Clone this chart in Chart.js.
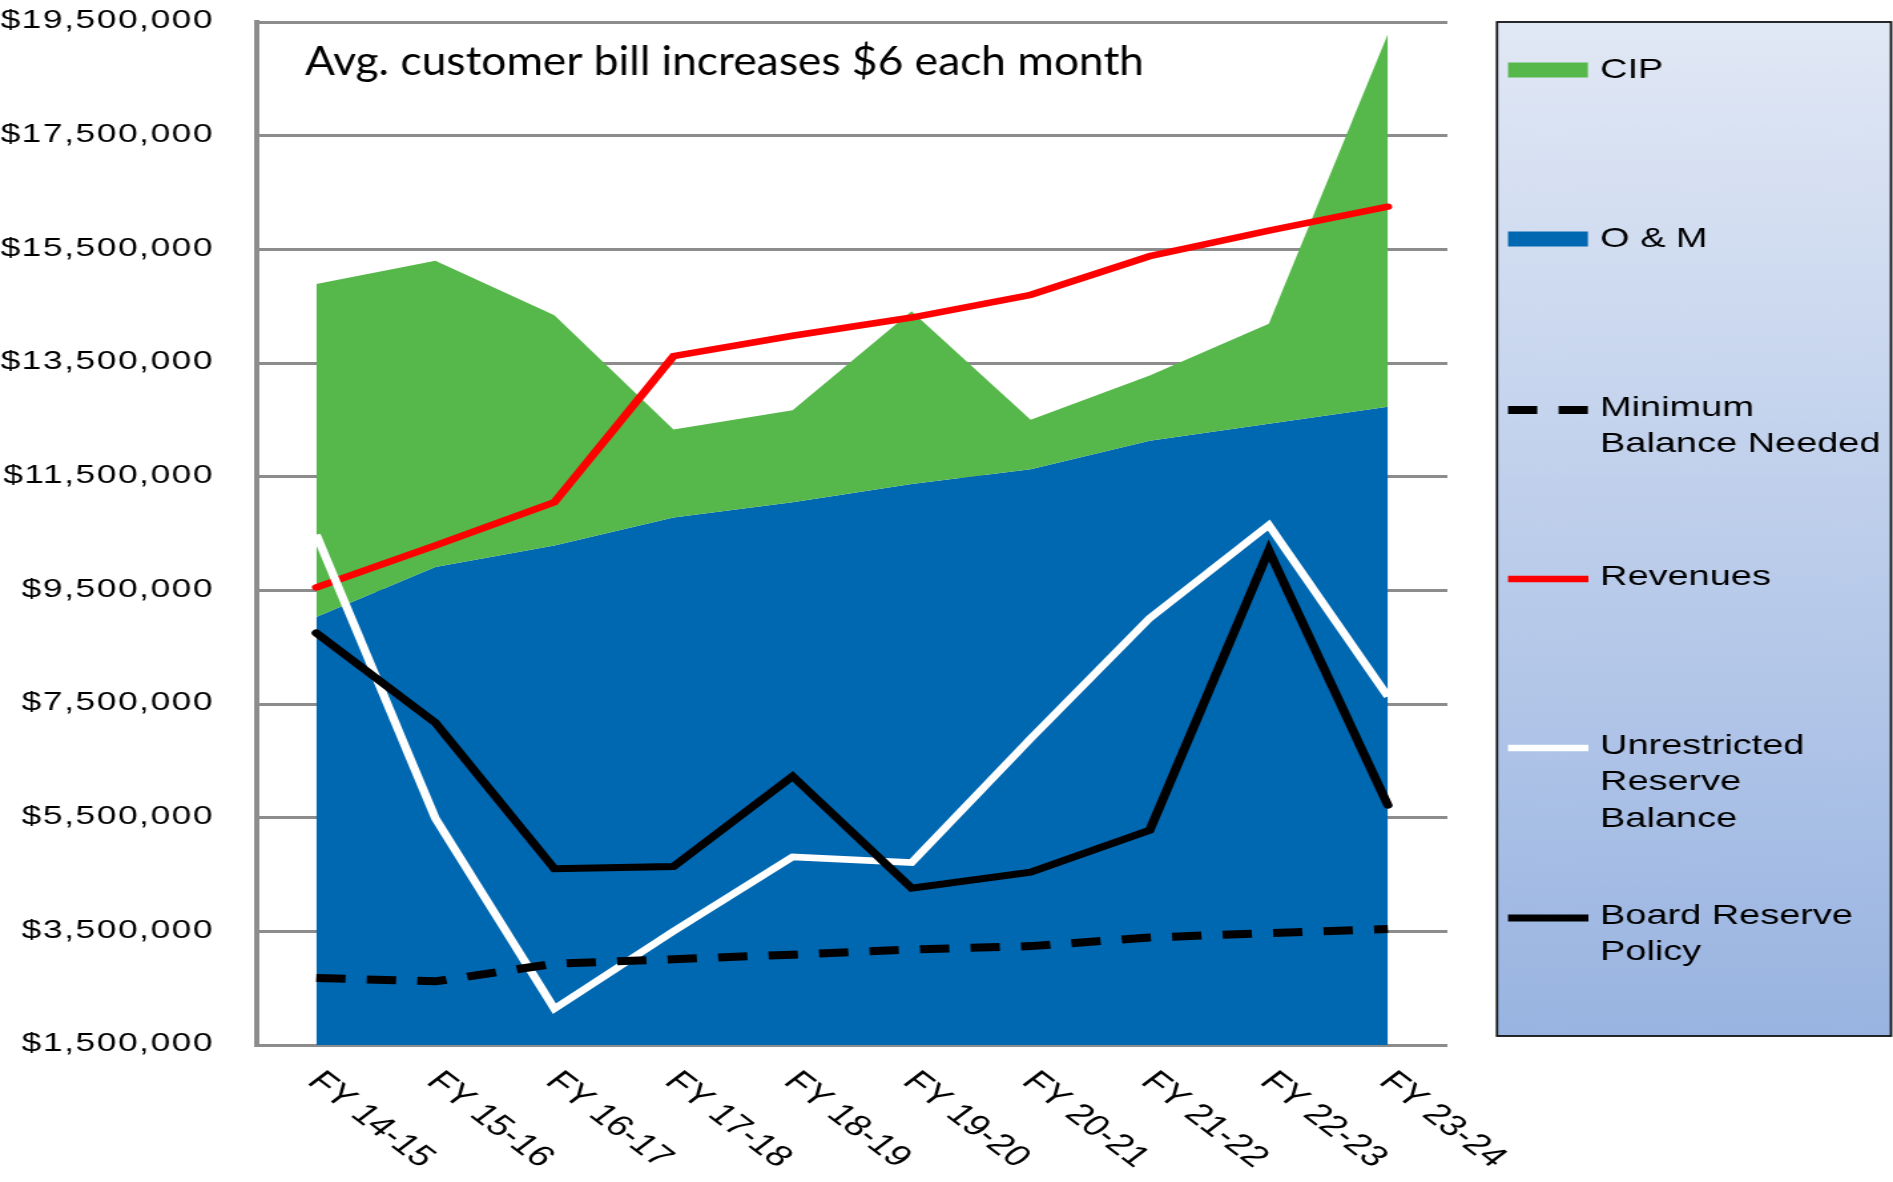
<!DOCTYPE html>
<html>
<head>
<meta charset="utf-8">
<script src="https://cdn.jsdelivr.net/npm/chart.js@4.4.1/dist/chart.umd.min.js"></script>
<style>
  html, body { margin: 0; padding: 0; background: #fff; overflow: hidden; }
  /* the original picture is a chart stretched sideways, so draw narrow and stretch */
  #wrap { width: 1423px; height: 1182px; transform: scaleX(1.3303); transform-origin: 0 0; }
</style>
</head>
<body>
<div id="wrap"><canvas id="fund_chart"></canvas></div>
<script>
const stretch = 1.3303;

const years = ['FY 14-15', 'FY 15-16', 'FY 16-17', 'FY 17-18', 'FY 18-19', 'FY 19-20', 'FY 20-21', 'FY 21-22', 'FY 22-23', 'FY 23-24'];

const om_costs = [9030000, 9910000, 10290000, 10780000, 11050000, 11370000, 11630000, 12130000, 12430000, 12730000];
const cip_costs = [5860000, 5390000, 4050000, 1550000, 1620000, 3040000, 870000, 1150000, 1760000, 6560000];
const revenues = [9550000, 10290000, 11050000, 13620000, 13980000, 14300000, 14700000, 15380000, 15830000, 16250000];
const unrestricted_balance = [10480000, 5490000, 2140000, 3500000, 4810000, 4710000, 6890000, 9010000, 10650000, 7630000];
const board_policy = [8750000, 7170000, 4600000, 4640000, 6230000, 4260000, 4540000, 5280000, 10200000, 5720000];
const minimum_balance = [2680000, 2620000, 2930000, 3010000, 3090000, 3180000, 3240000, 3390000, 3470000, 3540000];

const y_min = 1500000;
const y_max = 19500000;
const y_step = 2000000;

const note_text = 'Avg. customer bill increases $6 each month';

Chart.defaults.font.family = '"Liberation Sans", Arial, sans-serif';
Chart.defaults.color = '#000';

// the axis labels in the picture are spaced out a little
const spaced_ticks = {
  id: 'spaced_ticks',
  beforeDraw(chart) {
    chart.ctx.letterSpacing = '1.2px';
  }
};

// legend on the right, drawn in the gradient box
const legend_box = {
  id: 'legend_box',
  afterDraw(chart) {
    const ctx = chart.ctx;
    const left = 1125.3, top = 22, right = 1421.5, bottom = 1036;
    ctx.save();
    ctx.letterSpacing = '0px';
    const grad = ctx.createLinearGradient(0, top, 0, bottom);
    grad.addColorStop(0, '#e1e8f5');
    grad.addColorStop(1, '#99b4e1');
    ctx.fillStyle = grad;
    ctx.fillRect(left, top, right - left, bottom - top);
    ctx.strokeStyle = '#111';
    ctx.lineWidth = 1.8;
    ctx.strokeRect(left, top, right - left, bottom - top);

    const rows = [
      { ds: 5, y: 70 },
      { ds: 4, y: 239 },
      { ds: 0, y: 408 },
      { ds: 1, y: 577 },
      { ds: 2, y: 746 },
      { ds: 3, y: 916 }
    ];
    ctx.font = '28.5px "Liberation Sans", Arial, sans-serif';
    ctx.textAlign = 'left';
    ctx.textBaseline = 'middle';
    rows.forEach(r => {
      const ds = chart.data.datasets[r.ds];
      if (ds.fill) {
        ctx.fillStyle = ds.backgroundColor;
        ctx.fillRect(1133.6, r.y - 7.5, 60, 15);
      } else {
        ctx.save();
        ctx.strokeStyle = ds.borderColor;
        ctx.lineWidth = ds.borderWidth;
        ctx.setLineDash(ds.borderDash || []);
        ctx.lineCap = 'butt';
        ctx.beginPath();
        ctx.moveTo(1133.6, r.y + 2);
        ctx.lineTo(1194, r.y + 2);
        ctx.stroke();
        ctx.restore();
      }
      ctx.fillStyle = '#000';
      ds.label.split('\n').forEach((line, k) => {
        ctx.fillText(line, 1202.8, r.y + k * 36.5);
      });
    });
    ctx.restore();
  }
};

// rotated year labels and the note at the top of the plot
const extra_text = {
  id: 'extra_text',
  afterDraw(chart) {
    const ctx = chart.ctx;
    const xs = chart.scales.x;
    ctx.save();
    ctx.letterSpacing = '0px';
    ctx.fillStyle = '#000';
    ctx.font = '29.5px "Liberation Sans", Arial, sans-serif';
    ctx.textAlign = 'left';
    ctx.textBaseline = 'middle';
    years.forEach((lab, i) => {
      ctx.save();
      ctx.translate(xs.getPixelForTick(i) - 2, 1077);
      ctx.rotate(Math.PI / 4);
      ctx.fillText(lab, 0, 0);
      ctx.restore();
    });

    // the note was not stretched, so undo the page stretch for it
    ctx.font = '40px Lato, "Open Sans", sans-serif';
    ctx.textBaseline = 'alphabetic';
    const w = ctx.measureText(note_text).width;
    ctx.translate(305 / stretch, 75);
    ctx.scale((839 / stretch) / w, 1);
    ctx.fillText(note_text, 0, 0);
    ctx.restore();
  }
};

new Chart(document.getElementById('fund_chart'), {
  type: 'line',
  data: {
    labels: years,
    datasets: [
      {
        label: 'Minimum\nBalance Needed',
        data: minimum_balance,
        borderColor: '#000',
        borderWidth: 8,
        borderDash: [22, 16],
        order: 1
      },
      {
        label: 'Revenues',
        data: revenues,
        borderColor: '#ff0000',
        borderWidth: 6.5,
        borderCapStyle: 'round',
        order: 3
      },
      {
        label: 'Unrestricted\nReserve\nBalance',
        data: unrestricted_balance,
        borderColor: '#ffffff',
        borderWidth: 6.5,
        order: 2
      },
      {
        label: 'Board Reserve\nPolicy',
        data: board_policy,
        borderColor: '#000',
        borderWidth: 7,
        borderCapStyle: 'round',
        order: 0
      },
      {
        label: 'O & M',
        data: om_costs,
        fill: 'start',
        backgroundColor: '#0067b1',
        borderWidth: 0,
        order: 9
      },
      {
        label: 'CIP',
        data: om_costs.map((v, i) => v + cip_costs[i]),
        fill: '-1',
        backgroundColor: '#56b84b',
        borderWidth: 0,
        order: 8
      }
    ]
  },
  options: {
    responsive: true,
    maintainAspectRatio: false,
    animation: false,
    elements: {
      point: { radius: 0, hoverRadius: 0 },
      line: { tension: 0, borderJoinStyle: 'miter' }
    },
    layout: {
      padding: { left: 0, right: 335, top: 22, bottom: 137 }
    },
    scales: {
      x: {
        offset: true,
        grid: { display: false },
        border: { display: false },
        ticks: { display: false },
        afterFit: scale => {
          scale.height = 0;
          scale.paddingLeft = 0;
          scale.paddingRight = 0;
        }
      },
      y: {
        min: y_min,
        max: y_max,
        ticks: {
          stepSize: y_step,
          padding: 32,
          labelOffset: -1,
          color: '#000',
          font: { size: 26.5 },
          callback: v => '$' + v.toLocaleString('en-US')
        },
        grid: { color: '#8c8c8c', lineWidth: 3, drawTicks: false },
        border: { color: '#8c8c8c', width: 4 },
        afterFit: scale => {
          scale.width = 193;
          scale.paddingTop = 0;
          scale.paddingBottom = 0;
        }
      }
    },
    plugins: {
      legend: { display: false },
      tooltip: { enabled: false },
      filler: { drawTime: 'beforeDatasetsDraw' }
    }
  },
  plugins: [spaced_ticks, legend_box, extra_text]
});
</script>
</body>
</html>
